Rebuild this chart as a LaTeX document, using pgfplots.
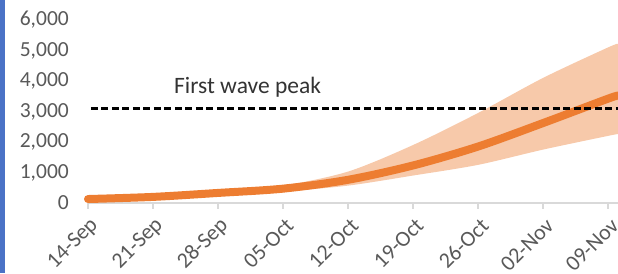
\documentclass[border=0pt]{standalone}
\usepackage{pgfplots}
\pgfplotsset{compat=1.18}
\usepgfplotslibrary{fillbetween}
\usepackage{fontspec}
\setmainfont{Carlito}
\definecolor{lineor}{HTML}{ED7D31}
\definecolor{bandor}{HTML}{F7C9AA}
\definecolor{tickgray}{HTML}{595959}
\definecolor{axgray}{HTML}{D9D9D9}
\definecolor{barblue}{HTML}{4A72C6}
\begin{document}
\begin{tikzpicture}
\fill[barblue] (0,0) rectangle (5pt,273pt);
\begin{axis}[
  at={(88pt,70pt)}, anchor=south west,
  scale only axis,
  width=530pt, height=183pt,
  xmin=0, xmax=57.08,
  ymin=0, ymax=6000,
  clip=false,
  axis lines*=left,
  y axis line style={draw=none},
  x axis line style={draw=axgray, line width=1.5pt, -},
  ytick={0,1000,2000,3000,4000,5000,6000},
  xtick={0,7,14,21,28,35,42,49,56},
  xticklabels={14-Sep,21-Sep,28-Sep,05-Oct,12-Oct,19-Oct,26-Oct,02-Nov,09-Nov},
  ytick style={draw=none},
  xtick style={draw=axgray, line width=1.2pt},
  tick align=outside,
  major tick length=6pt,
  /pgf/number format/assume math mode=true,
  /pgf/number format/1000 sep={,},
  yticklabel style={font=\fontsize{21.5}{25}\selectfont, text=tickgray, anchor=east, inner sep=0pt, xshift=-13pt},
  xticklabel style={font=\fontsize{22}{26}\selectfont, text=tickgray, xshift=7pt, yshift=-13pt, rotate=45, anchor=east, inner sep=0pt},
  scaled y ticks=false,
]
\addplot[name path=hi, draw=none, smooth] coordinates {(0,130) (7,205) (14,350) (21,570) (28,1030) (35,1900) (42,2950) (49,4100) (56,5100) (57.08,5220)};
\addplot[name path=lo, draw=none, smooth] coordinates {(0,130) (7,195) (14,310) (21,380) (28,570) (35,900) (42,1250) (49,1750) (56,2200) (57.08,2260)};
\addplot[bandor, draw=none] fill between[of=hi and lo];
\addplot[lineor, line width=8pt, line cap=round, smooth] coordinates {(0,130) (7,200) (14,330) (21,470) (28,760) (35,1230) (42,1850) (49,2620) (56,3420) (57.08,3520)};
\addplot[black, line width=2.3pt, dash pattern=on 7pt off 3.5pt] coordinates {(0.3,3100) (57.08,3100)};
\node[anchor=base west, inner sep=0pt, font=\fontsize{23.5}{28}\selectfont, text=black!80] at (axis cs:9.26,3597) {First wave peak};
\end{axis}
\pgfresetboundingbox
\path[use as bounding box] (0,0) rectangle (618pt,273pt);
\end{tikzpicture}
\end{document}
